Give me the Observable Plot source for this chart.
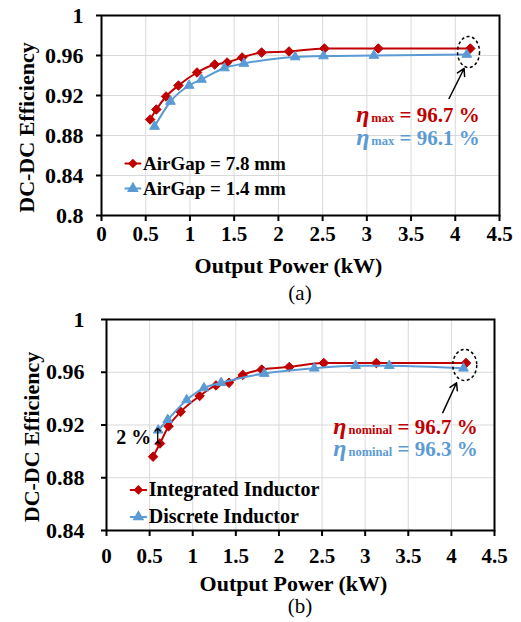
<!DOCTYPE html>
<html><head><meta charset="utf-8">
<script src="https://cdn.jsdelivr.net/npm/d3@7"></script>
<script src="https://cdn.jsdelivr.net/npm/@observablehq/plot@0.6"></script>
<style>
body{margin:0;background:#fff;}
#wrap{position:relative;width:521px;height:622px;font-family:"Liberation Serif","Times New Roman",serif;}
.panel{position:absolute;left:0;}
.cap{position:absolute;width:60px;text-align:center;font-size:21px;line-height:21px;color:#000;font-family:"Liberation Serif","Times New Roman",serif;}
</style></head><body><div id="wrap"></div>
<script>
// ---------- data ----------
const xTicks = [0, 0.5, 1, 1.5, 2, 2.5, 3, 3.5, 4, 4.5];
const yTicksA = [0.8, 0.84, 0.88, 0.92, 0.96, 1];
const yTicksB = [0.84, 0.88, 0.92, 0.96, 1];

// panel (a)
const seriesA = ["AirGap = 7.8 mm", "AirGap = 1.4 mm"];
const powerA78 = [0.55, 0.62, 0.73, 0.87, 1.08, 1.28, 1.42, 1.59, 1.81, 2.12, 2.52, 3.13, 4.17];
const effA78   = [0.896, 0.906, 0.919, 0.930, 0.943, 0.951, 0.953, 0.958, 0.963, 0.964, 0.967, 0.967, 0.967];
const powerA14 = [0.60, 0.78, 0.99, 1.13, 1.39, 1.61, 2.19, 2.51, 3.08, 4.13];
const effA14   = [0.889, 0.914, 0.930, 0.936, 0.9475, 0.952, 0.9585, 0.9595, 0.960, 0.961];
const annSubA  = ["max", "max"];
const annValA  = ["= 96.7 %", "= 96.1 %"];

// panel (b)
const seriesB = ["Integrated Inductor", "Discrete Inductor"];
const powerBInt = [0.54, 0.62, 0.72, 0.86, 1.08, 1.27, 1.42, 1.58, 1.80, 2.12, 2.52, 3.13, 4.17];
const effBInt   = [0.896, 0.906, 0.919, 0.930, 0.942, 0.950, 0.952, 0.958, 0.962, 0.964, 0.967, 0.967, 0.967];
const powerBDis = [0.60, 0.71, 0.93, 1.13, 1.33, 1.83, 2.41, 2.89, 3.28, 4.14];
const effBDis   = [0.916, 0.924, 0.939, 0.948, 0.952, 0.959, 0.963, 0.965, 0.965, 0.963];
const annSubB  = ["nominal", "nominal"];
const annValB  = ["= 96.7 %", "= 96.3 %"];
const gapLabel = "2 %";

const xTitle = "Output Power (kW)";
const yTitle = "DC-DC Efficiency";
const captions = ["(a)", "(b)"];

// ---------- styles ----------
const RED = "#C00000", BLUE = "#5B9BD5";
const FONT = '"Liberation Serif","Times New Roman",serif';
const fmt = d => String(+d.toFixed(2));

function ellipseSymbol(rx, ry) {
  const k = 0.5523;
  return {draw(ctx) {
    ctx.moveTo(rx, 0);
    ctx.bezierCurveTo(rx, ry*k, rx*k, ry, 0, ry);
    ctx.bezierCurveTo(-rx*k, ry, -rx, ry*k, -rx, 0);
    ctx.bezierCurveTo(-rx, -ry*k, -rx*k, -ry, 0, -ry);
    ctx.bezierCurveTo(rx*k, -ry, rx, -ry*k, rx, 0);
    ctx.closePath();
  }};
}

function toRows(xs, ys) { return xs.map((x, i) => ({x, y: ys[i]})); }

function panel(cfg) {
  const s1 = toRows(cfg.p1, cfg.e1), s2 = toRows(cfg.p2, cfg.e2);
  const leg = cfg.series.map((name, i) => ({name, y: cfg.legY[i], color: i ? BLUE : RED, sym: i ? "triangle" : "diamond2"}));
  const legLine = leg.flatMap(d => [{...d, x: cfg.legX[0]}, {...d, x: cfg.legX[1]}]);
  const ann = cfg.annVal.map((v, i) => ({t: "η" + cfg.annSub[i] + " " + v, y: cfg.annY[i], color: i ? BLUE : RED}));
  const marks = [
    Plot.gridX(xTicks, {stroke: "#d9d9d9", strokeOpacity: 1, strokeWidth: 1}),
    Plot.gridY(cfg.yTicks, {stroke: "#d9d9d9", strokeOpacity: 1, strokeWidth: 1}),
    Plot.axisX(xTicks, {tickSize: 6, tickPadding: cfg.xPad, fontSize: 21, strokeWidth: 2, tickFormat: fmt, label: null}),
    Plot.axisY(cfg.yTicks, {tickSize: 5, tickPadding: cfg.yPad, fontSize: 22, strokeWidth: 2, tickFormat: fmt, label: null}),
    Plot.line(s1, {x: "x", y: "y", stroke: RED, strokeWidth: 2, curve: "monotone-x"}),
    Plot.dot(s1, {x: "x", y: "y", symbol: "diamond2", r: 4.3, fill: RED, stroke: RED, strokeWidth: 1}),
    Plot.line(s2, {x: "x", y: "y", stroke: BLUE, strokeWidth: 2, curve: "monotone-x"}),
    Plot.dot(s2, {x: "x", y: "y", symbol: "triangle", r: 3.6, fill: BLUE, stroke: BLUE, strokeWidth: 1}),
    Plot.line(legLine, {x: "x", y: "y", z: "name", stroke: "color", strokeWidth: 2}),
    Plot.dot(leg, {x: (cfg.legX[0] + cfg.legX[1]) / 2, y: "y", symbol: "sym", r: 3.4, fill: "color", stroke: "color"}),
    Plot.text(leg, {x: cfg.legTextX, y: "y", text: "name", textAnchor: "start", lineAnchor: "middle", fontSize: cfg.legFont, fontWeight: "bold", fill: "black"}),
    Plot.dot([cfg.ell], {x: "x", y: "y", symbol: ellipseSymbol(cfg.ell.rx, cfg.ell.ry), fill: "none", stroke: "black", strokeWidth: 1.5, strokeDasharray: "3,2.5"}),
    Plot.arrow([cfg.arr], {x1: "x1", y1: "y1", x2: "x2", y2: "y2", stroke: "black", strokeWidth: 1.5, headLength: 8}),
    Plot.text(ann, {x: cfg.annX, y: "y", text: "t", textAnchor: "end", lineAnchor: "middle", fontSize: 21, fontWeight: "bold", fill: "color"}),
    Plot.text([xTitle], {frameAnchor: "bottom", dy: cfg.xTitleDy, dx: cfg.xTitleDx, textAnchor: "middle", lineAnchor: "middle", fontSize: 22, fontWeight: "bold", fill: "black"}),
    Plot.text([yTitle], {frameAnchor: "left", dx: -75, dy: 12, rotate: -90, textAnchor: "middle", lineAnchor: "middle", fontSize: 22, fontWeight: "bold", fill: "black"}),
    Plot.frame({stroke: "black", strokeWidth: 2})
  ];
  if (cfg.gap) {
    marks.push(Plot.link([cfg.gap], {x1: "x", x2: "x", y1: "y1", y2: "y2", stroke: "black", strokeWidth: 1.3, markerStart: "arrow", markerEnd: "arrow"}));
    marks.push(Plot.text([cfg.gap], {x: "tx", y: "ty", text: d => gapLabel, fontSize: 20, fontWeight: "bold", fill: "black", lineAnchor: "middle"}));
  }
  const svg = Plot.plot({
    width: 521, height: cfg.height,
    marginLeft: cfg.ml, marginRight: cfg.mr, marginTop: cfg.mt, marginBottom: cfg.mb,
    style: {fontFamily: FONT, fontWeight: "bold", background: "white", color: "black", overflow: "visible"},
    x: {domain: [0, 4.5]},
    y: {domain: cfg.yDomain},
    marks
  });
  // rich text for η annotations
  d3.select(svg).selectAll("text").each(function() {
    const t = this.textContent;
    if (t.startsWith("η") && !this.querySelector("tspan")) {
      const idx = cfg.annSub.findIndex((s, i) => t === "η" + s + " " + cfg.annVal[i]);
      if (idx < 0) return;
      const sub = cfg.annSub[idx], val = cfg.annVal[idx];
      const el = d3.select(this);
      el.text(null);
      el.append("tspan").attr("font-style", "italic").attr("font-size", 24).text("η");
      el.append("tspan").attr("font-size", 12.5).attr("dx", 2).text(sub);
      el.append("tspan").text(" " + val);
    }
  });
  return svg;
}

const wrap = document.getElementById("wrap");

const svgA = panel({
  height: 280, ml: 101, mr: 22, mt: 15, mb: 65, yDomain: [0.8, 1], yTicks: yTicksA,
  xPad: 5, yPad: 13, xTitleDy: 50, xTitleDx: -12,
  p1: powerA78, e1: effA78, p2: powerA14, e2: effA14,
  series: seriesA, legY: [0.852, 0.827], legX: [0.27, 0.44], legTextX: 0.47, legFont: 19,
  annSub: annSubA, annVal: annValA, annX: 4.276, annY: [0.9007, 0.8777],
  ell: {x: 4.15, y: 0.9635, rx: 11, ry: 15.5},
  arr: {x1: 3.93, y1: 0.917, x2: 4.10, y2: 0.947}
});
svgA.classList.add("panel"); svgA.style.top = "0px";
wrap.appendChild(svgA);

const svgB = panel({
  height: 295, ml: 106, mr: 27, mt: 19, mb: 65, yDomain: [0.84, 1], yTicks: yTicksB,
  xPad: 12, yPad: 17, xTitleDy: 53, xTitleDx: -7,
  p1: powerBInt, e1: effBInt, p2: powerBDis, e2: effBDis,
  series: seriesB, legY: [0.8708, 0.8503], legX: [0.28, 0.46], legTextX: 0.49, legFont: 20,
  annSub: annSubB, annVal: annValB, annX: 4.305, annY: [0.9186, 0.9019],
  ell: {x: 4.155, y: 0.9655, rx: 12, ry: 15.5},
  arr: {x1: 3.90, y1: 0.9294, x2: 4.06, y2: 0.952},
  gap: {x: 0.594, y1: 0.9065, y2: 0.9165, tx: 0.317, ty: 0.9108}
});
svgB.classList.add("panel"); svgB.style.top = "300px";
wrap.appendChild(svgB);

[[captions[0], 283], [captions[1], 596]].forEach(([c, top]) => {
  const d = document.createElement("div");
  d.className = "cap"; d.textContent = c;
  d.style.left = "270px"; d.style.top = top + "px";
  wrap.appendChild(d);
});
</script></body></html>
